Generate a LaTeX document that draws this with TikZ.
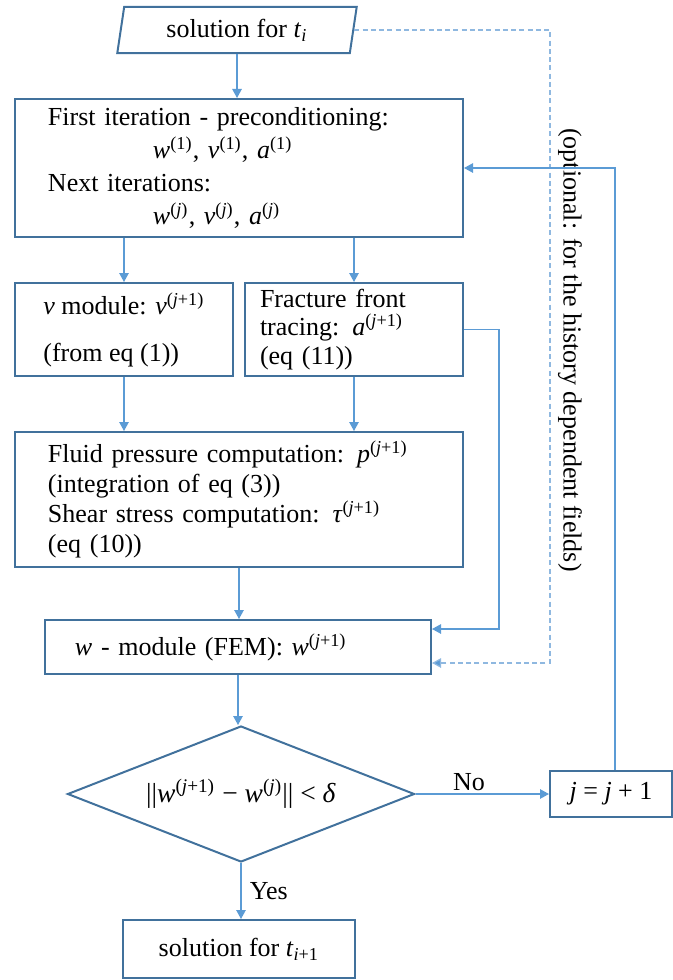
\documentclass[tikz,border=0pt]{standalone}
\usepackage{fontspec}
\setmainfont{Liberation Serif}
\usetikzlibrary{shapes.geometric, arrows.meta}

\definecolor{boxblue}{HTML}{41719C}
\definecolor{linkblue}{HTML}{5B9BD5}
\definecolor{dashblue}{HTML}{8FB8E0}

\newcommand{\vr}[1]{\textit{#1}}
\newcommand{\itr}[2]{\textit{#1}\textsuperscript{(#2)}}

\begin{document}
\begin{tikzpicture}[x=0.4pt, y=-0.4pt,
		txt/.style={font=\fontsize{10.4}{13.2}\selectfont},
		block/.style={draw=boxblue, line width=0.8pt, rectangle, inner ysep=0pt, txt},
		flow/.style={draw=linkblue, line width=0.5pt, -{Triangle[length=3.6pt, width=3.8pt]}},
		optflow/.style={flow, draw=dashblue, dash pattern=on 2pt off 1.3pt, -{Triangle[length=3.6pt, width=3.8pt, fill=linkblue]}}]
		\useasboundingbox (0,0) rectangle (673,980);

		\node[block, trapezium, trapezium left angle=77.7, trapezium right angle=102.3, trapezium stretches=true, minimum width=96pt, minimum height=18.4pt] (sol) at (237,30) {solution for \vr{t}\textsubscript{\vr{i}}};

		\node[block, minimum height=55.2pt, text width=152.8pt, inner xsep=13.2pt, align=left] (iter) at (239,168) {First iteration - preconditioning:\\ \hspace*{42pt}\itr{w}{1}, \itr{v}{1}, \itr{a}{1}\\ Next iterations:\\ \hspace*{42pt}\itr{w}{\vr{j}}, \itr{v}{\vr{j}}, \itr{a}{\vr{j}}};

		\node[block, minimum width=87.2pt, minimum height=37.2pt, align=left, font=\fontsize{10.4}{18.8}\selectfont] (vmod) at (124,329.5) {\vr{v} module: \itr{v}{\vr{j}+1}\\ (from eq (1))};
		\node[block, minimum height=37.2pt, text width=75.2pt, inner xsep=6pt, align=left, font=\fontsize{10.4}{11.4}\selectfont] (front) at (354,329.5) {Fracture front\\ tracing: \itr{a}{\vr{j}+1}\\ (eq (11))};

		\node[block, minimum height=54pt, text width=152.8pt, inner xsep=13.2pt, align=left, font=\fontsize{10.4}{12}\selectfont] (press) at (239,499.5) {Fluid pressure computation: \itr{p}{\vr{j}+1}\\ (integration of eq (3))\\ Shear stress computation: \itr{τ}{\vr{j}+1}\\ (eq (10))};

		\node[block, minimum height=21.6pt, text width=130.4pt, inner xsep=12pt, align=left] (wmod) at (238,647) {\vr{w} - module (FEM): \itr{w}{\vr{j}+1}};

		\node[block, diamond, aspect=2.55, inner sep=0pt, minimum width=138.8pt, minimum height=54.4pt, font=\fontsize{11}{13.2}\selectfont] (conv) at (241,794) {||\itr{w}{\vr{j}+1} − \itr{w}{\vr{j}}|| < \vr{δ}};

		\node[block, minimum width=48.8pt, minimum height=18.4pt] (next) at (611,794) {\vr{j} = \vr{j} + 1};

		\node[block, minimum width=92.8pt, minimum height=23.2pt] (done) at (239,949) {solution for \vr{t}\textsubscript{\vr{i}+1}};

		\node[txt, rotate=-90] (hist) at (570,350) {(optional: for the history dependent fields)};
		\coordinate (dashx) at (550,0);

		\draw[flow] (sol.south) -- (sol.south |- iter.north);
		\draw[flow] (vmod.north |- iter.south) -- (vmod.north);
		\draw[flow] (front.north |- iter.south) -- (front.north);
		\draw[flow] (vmod.south) -- (vmod.south |- press.north);
		\draw[flow] (front.south) -- (front.south |- press.north);
		\draw[flow] (press.south) -- (press.south |- wmod.north);
		\draw[flow] (front.east) -- ++(35,0) |- ([yshift=-4pt]wmod.north east);
		\draw[optflow] (sol.east) -- (sol.east -| dashx) |- ([yshift=4.8pt]wmod.south east);
		\draw[flow] (wmod.south) -- (wmod.south |- conv.north);
		\draw[flow] (conv.east) -- node[txt, above, pos=0.4, inner sep=1pt] (no) {No} (next.west);
		\draw[flow] (conv.south) -- node[txt, right, pos=0.5] (yes) {Yes} (conv.south |- done.north);
		\draw[flow] ([xshift=1.6pt]next.north) |- (iter.east);
\end{tikzpicture}
\end{document}
